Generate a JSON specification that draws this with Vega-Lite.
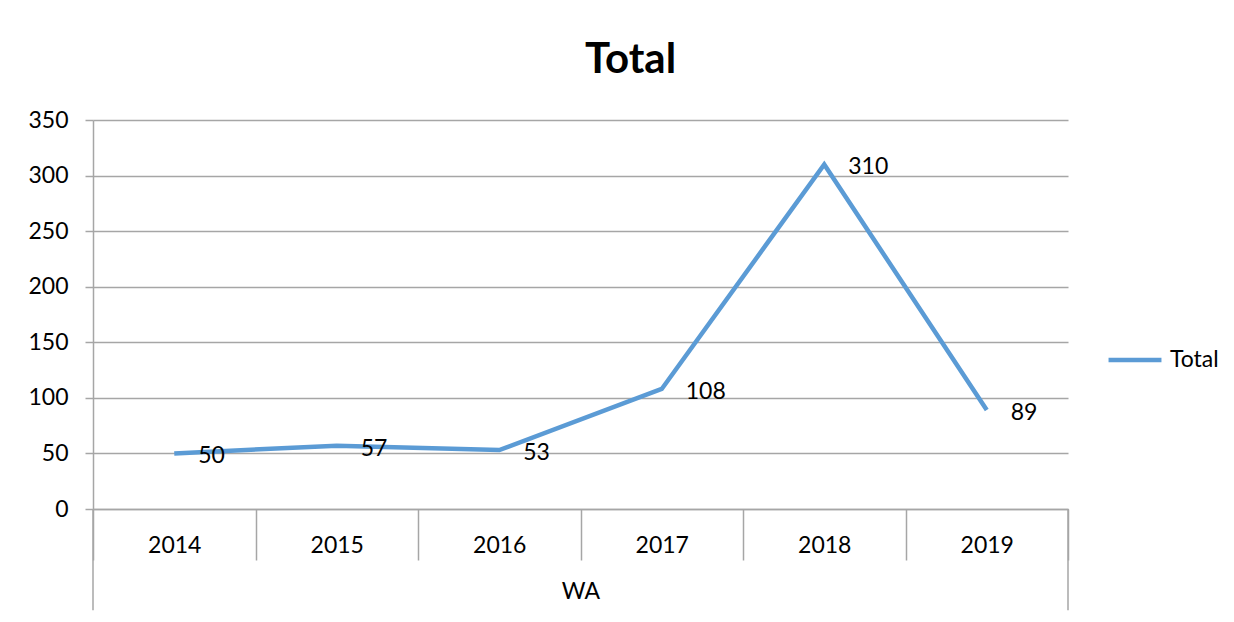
{
  "$schema": "https://vega.github.io/schema/vega-lite/v6.json",
  "width": 975,
  "height": 389,
  "autosize": {"type": "none"},
  "padding": {"left": 93, "top": 120, "right": 166, "bottom": 113},
  "background": "white",
  "config": {
    "view": {"stroke": null},
    "font": "Lato",
    "axis": {"labelFont": "Lato", "titleFont": "Lato", "labelColor": "#000000", "titleColor": "#000000"}
  },
  "title": {
    "text": "Total",
    "font": "Lato",
    "fontSize": 42,
    "fontWeight": "bold",
    "color": "#000000",
    "anchor": "middle",
    "dx": 50,
    "baseline": "alphabetic",
    "offset": -6
  },
  "datasets": {
    "series": [
      {"year": "2014", "value": 50, "series": "Total"},
      {"year": "2015", "value": 57, "series": "Total"},
      {"year": "2016", "value": 53, "series": "Total"},
      {"year": "2017", "value": 108, "series": "Total"},
      {"year": "2018", "value": 310, "series": "Total"},
      {"year": "2019", "value": 89, "series": "Total"}
    ],
    "leftEdge": [{"year": "2014", "top": 0, "bottom": -91}],
    "rightEdge": [{"year": "2019", "top": 0, "bottom": -91}]
  },
  "layer": [
    {
      "data": {"name": "leftEdge"},
      "mark": {"type": "rule", "color": "#A6A6A6", "strokeWidth": 1.5},
      "encoding": {
        "x": {"field": "year", "type": "ordinal", "bandPosition": 0, "scale": {"domain": ["2014","2015","2016","2017","2018","2019"], "paddingInner": 0, "paddingOuter": 0}},
        "y": {"field": "top", "type": "quantitative", "scale": {"domain": [0, 350], "nice": false, "zero": false}},
        "y2": {"field": "bottom"}
      }
    },
    {
      "data": {"name": "rightEdge"},
      "mark": {"type": "rule", "color": "#A6A6A6", "strokeWidth": 1.5},
      "encoding": {
        "x": {"field": "year", "type": "ordinal", "bandPosition": 1},
        "y": {"field": "top", "type": "quantitative"},
        "y2": {"field": "bottom"}
      }
    },
    {
      "data": {"name": "series"},
      "mark": {"type": "line", "strokeWidth": 4.5, "strokeJoin": "miter"},
      "encoding": {
        "x": {
          "field": "year",
          "type": "ordinal",
          "title": "WA",
          "axis": {
            "labelAngle": 0,
            "labelAlign": "center",
            "labelFontSize": 23,
            "labelBaseline": "middle",
            "labelPadding": -15,
            "tickBand": "extent",
            "tickSize": 51,
            "tickColor": "#A6A6A6",
            "tickWidth": 1.5,
            "domainColor": "#A6A6A6",
            "domainWidth": 1.5,
            "titleFontSize": 23,
            "titleFontWeight": "normal",
            "titlePadding": 20,
            "grid": false
          }
        },
        "y": {
          "field": "value",
          "type": "quantitative",
          "title": null,
          "axis": {
            "values": [0, 50, 100, 150, 200, 250, 300, 350],
            "labelFontSize": 23,
            "labelPadding": 17,
            "tickSize": 8,
            "tickColor": "#A6A6A6",
            "tickWidth": 1.5,
            "domainColor": "#A6A6A6",
            "domainWidth": 1.5,
            "gridColor": "#A6A6A6",
            "gridWidth": 1.5
          }
        },
        "color": {
          "field": "series",
          "type": "nominal",
          "scale": {"range": ["#5B9BD5"]},
          "legend": {
            "title": null,
            "orient": "none",
            "legendX": 1013,
            "legendY": 211,
            "symbolType": "stroke",
            "symbolSize": 2800,
            "symbolStrokeWidth": 4.5,
            "labelFontSize": 23,
            "labelFont": "Lato",
            "labelColor": "#000000",
            "labelOffset": 6,
            "padding": 0
          }
        }
      }
    },
    {
      "data": {"name": "series"},
      "mark": {"type": "text", "align": "left", "baseline": "middle", "dx": 24, "dy": 3, "fontSize": 23, "font": "Lato", "color": "#000000"},
      "encoding": {
        "x": {"field": "year", "type": "ordinal"},
        "y": {"field": "value", "type": "quantitative"},
        "text": {"field": "value", "type": "quantitative"}
      }
    }
  ]
}
